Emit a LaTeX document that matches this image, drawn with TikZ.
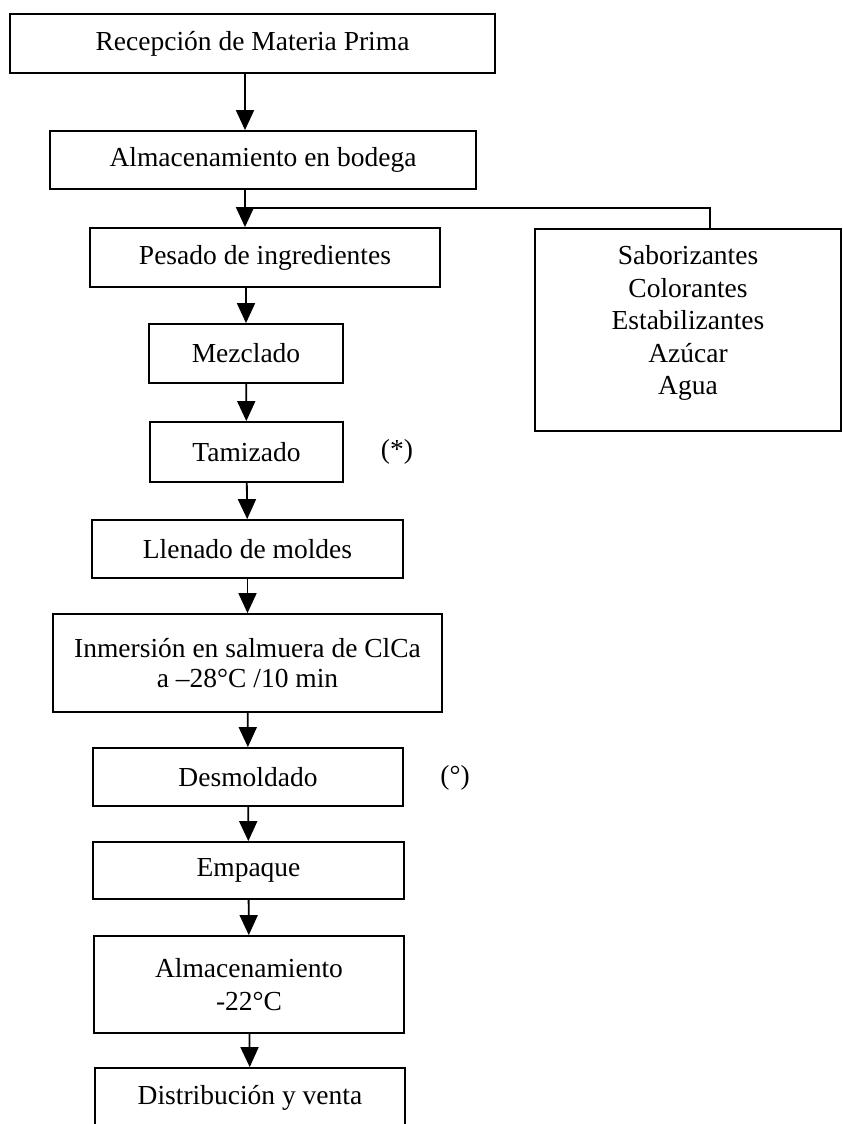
\documentclass[tikz,border=0pt]{standalone}
\usepackage{fontspec}
\setmainfont{Liberation Serif}
\usetikzlibrary{arrows.meta}
\begin{document}
\begin{tikzpicture}[x=1pt,y=-1pt,
  box/.style={draw,line width=1.8pt,rectangle,inner sep=0pt,align=center,
    font=\fontsize{27.5}{32.5}\selectfont},
  flow/.style={line width=1.8pt,-{Triangle[length=20pt,width=18pt]}},
  plain/.style={line width=1.8pt},
  note/.style={inner sep=0pt,font=\fontsize{27.5}{32.5}\selectfont}]
\useasboundingbox (0,0) rectangle (843,1124);
\clip (0,0) rectangle (843,1124);
\fill[white] (0,0) rectangle (843,1124);
\node[box,minimum width=485pt,minimum height=59pt] (b1) at (252.5,43.5) {Recepción de Materia Prima};
\node[box,minimum width=426pt,minimum height=58pt] (b2) at (263,160) {Almacenamiento en bodega};
\node[box,minimum width=350pt,minimum height=59pt] (b3) at (265,257.5) {Pesado de ingredientes};
\node[box,minimum width=194pt,minimum height=59pt] (b4) at (246,353.5) {Mezclado};
\node[box,minimum width=193pt,minimum height=60pt] (b5) at (246.5,452) {Tamizado};
\node[box,minimum width=311pt,minimum height=58pt] (b6) at (247.5,549) {Llenado de moldes};
\node[box,minimum width=389pt,minimum height=98pt,font=\fontsize{27.5}{30}\selectfont] (b7) at (247.5,663) {Inmersión en salmuera de ClCa\\a –28°C /10 min};
\node[box,minimum width=310pt,minimum height=58pt] (b8) at (248,777) {Desmoldado};
\node[box,minimum width=311pt,minimum height=57pt] (b9) at (248.5,870.5) {Empaque};
\node[box,minimum width=310pt,minimum height=97pt] (b10) at (249,984.5) {Almacenamiento\\-22°C};
\node[box,minimum width=310pt,minimum height=60pt] (b11) at (250,1098) {Distribución y venta};
\node[box,minimum width=306pt,minimum height=202pt,text depth=20pt] (add) at (688,330) {Saborizantes\\Colorantes\\Estabilizantes\\Azúcar\\Agua};
\node[note] (n1) at (397,452) {(*)};
\node[note] (n2) at (455,778) {(°)};
\coordinate (ax) at (245,0);
\coordinate (kx) at (710,0);
\coordinate (j) at (245,208);
\draw[flow] (b1.south -| ax) -- (b2.north -| ax);
\draw[flow] (b2.south -| ax) -- (b3.north -| ax);
\draw[plain] (j) -| (add.north -| kx);
\draw[flow] (b3.south -| b4.north) -- (b4.north);
\draw[flow] (b4) -- (b5);
\draw[flow] (b5) -- (b6);
\draw[flow] (b6) -- (b7);
\draw[flow] (b7) -- (b8);
\draw[flow] (b8) -- (b9);
\draw[flow] (b9) -- (b10);
\draw[flow] (b10) -- (b11);
\end{tikzpicture}
\end{document}
